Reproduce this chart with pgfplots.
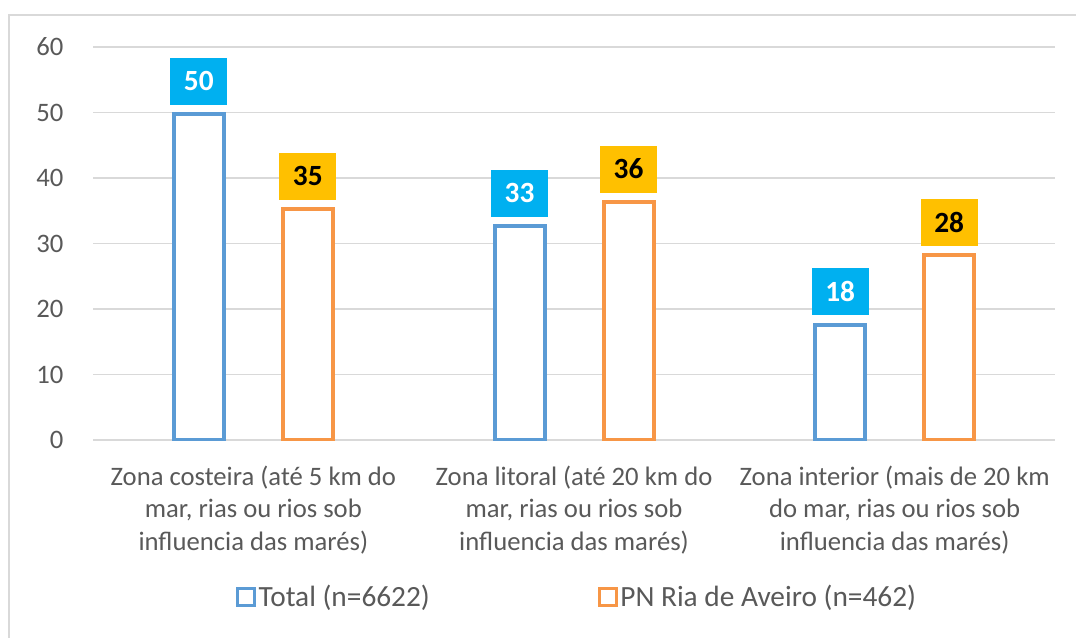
\documentclass[border=0pt]{standalone}
\usepackage{pgfplots}
\pgfplotsset{compat=1.18}
\usepackage{fontspec}
\setmainfont{Carlito}
\definecolor{txtgray}{HTML}{595959}
\definecolor{gridgray}{HTML}{D9D9D9}
\definecolor{barblue}{HTML}{5B9BD5}
\definecolor{barorange}{HTML}{F79646}
\definecolor{labblue}{HTML}{00B0F0}
\definecolor{laborange}{HTML}{FFC000}
\begin{document}
\begin{tikzpicture}
\useasboundingbox (0,0) rectangle (807pt,477.75pt);
\draw[gridgray, line width=1.5pt] (6.75pt,-5pt) -- (6.75pt,466.5pt) -- (820pt,466.5pt);
\begin{axis}[
  at={(69.75pt,147.75pt)}, anchor=south west,
  scale only axis, width=721.5pt, height=294.75pt,
  ybar=44.25pt, bar width=37.5pt,
  xmin=-0.5, xmax=2.5, ymin=0, ymax=60,
  ytick={0,10,...,60},
  xtick={0,1,2},
  xticklabels={{Zona costeira (até 5 km do\\mar, rias ou rios sob\\influencia das marés)},
               {Zona litoral (até 20 km do\\mar, rias ou rios sob\\influencia das marés)},
               {Zona interior (mais de 20 km\\do mar, rias ou rios sob\\influencia das marés)}},
  extra x ticks={-0.5,0.5,1.5,2.5},
  extra x tick labels={},
  extra x tick style={major tick length=6pt, tick align=outside, tick style={draw=gridgray, line width=1pt}},
  xtick style={draw=none},
  ytick style={draw=none},
  axis x line*=bottom, axis y line*=left,
  x axis line style={draw=gridgray, line width=1pt, -},
  y axis line style={draw=none},
  ymajorgrids, grid style={draw=gridgray, line width=1pt},
  yticklabel style={font=\fontsize{20}{24}\selectfont, text=txtgray, inner sep=0pt, anchor=east, xshift=-22pt},
  /pgf/number format/assume math mode=true,
  xticklabel style={font=\fontsize{20}{24.4}\selectfont, text=txtgray, align=center, anchor=north, inner sep=0pt, yshift=-15pt},
  nodes near coords={\pgfmathprintnumber[fixed,precision=0]{\pgfplotspointmeta}},
  every node near coord/.append style={font=\fontsize{22}{26}\selectfont\bfseries, anchor=south, inner sep=0pt, minimum width=42.75pt, minimum height=35.25pt, yshift=5.8pt},
  legend style={at={(0.5036,-0.3995)}, anchor=center, draw=none, fill=none, legend columns=2,
    font=\fontsize{22}{26}\selectfont, text=txtgray,
    /tikz/every even column/.append style={column sep=124pt}},
  legend image code/.code={\draw[#1, line width=2.2pt, fill=white] (0pt,-6.3pt) rectangle (12.6pt,6.3pt);},
]
\addplot[draw=barblue, fill=white, line width=3pt, every node near coord/.append style={fill=labblue, text=white}]
  coordinates {(0,49.7) (1,32.6) (2,17.6)};
\addplot[draw=barorange, fill=white, line width=3pt, every node near coord/.append style={fill=laborange, text=black}]
  coordinates {(0,35.2) (1,36.3) (2,28.2)};
\legend{Total (n=6622), PN Ria de Aveiro (n=462)}
\end{axis}
\end{tikzpicture}
\end{document}
